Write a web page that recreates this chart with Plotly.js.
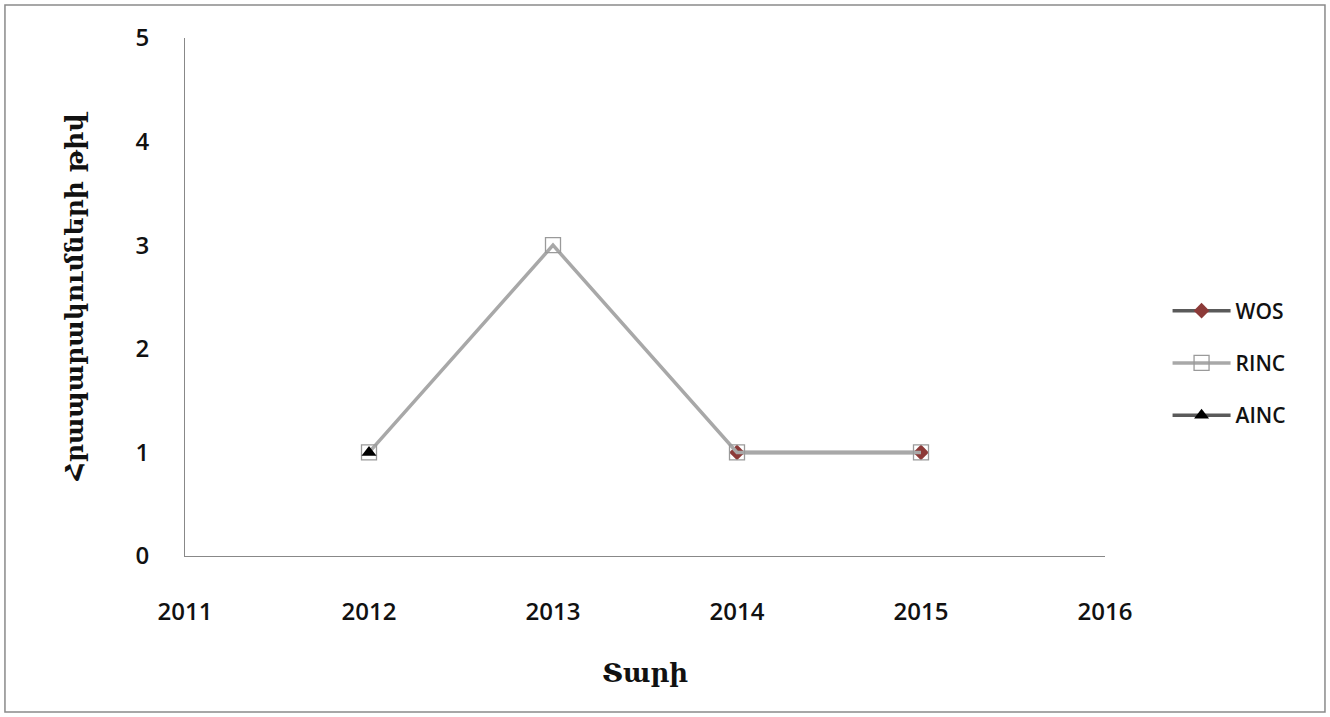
<!DOCTYPE html>
<html>
<head>
<meta charset="utf-8">
<script src="https://cdn.plot.ly/plotly-3.0.1.min.js"></script>
<style>html,body{margin:0;padding:0;background:#fff}#chart{width:1330px;height:717px}</style>
</head>
<body>
<div id="chart"></div>
<script>
const yearsWOS = [2014, 2015];
const valuesWOS = [1, 1];
const yearsRINC = [2012, 2013, 2014, 2015];
const valuesRINC = [1, 3, 1, 1];
const yearsAINC = [2012];
const valuesAINC = [1];
const xTicks = [2011, 2012, 2013, 2014, 2015, 2016];
const yTicks = [0, 1, 2, 3, 4, 5];
const xTitle = "Տարի";
const yTitle = "Հրապարակումների թիվ";

const traces = [
  {x: yearsWOS, y: valuesWOS, name: "WOS", mode: "lines+markers", legendgroup: "a",
   line: {color: "#5a5a5a", width: 3.5},
   marker: {symbol: "diamond", size: 12, color: "#8c3a38", line: {color: "#8c3a38", width: 0}}},
  {x: yearsRINC, y: valuesRINC, name: "RINC", mode: "lines+markers", legendgroup: "b",
   line: {color: "#a8a8a8", width: 3.5},
   marker: {symbol: "square-open", size: 15, color: "#9a9a9a", line: {width: 1.3}}},
  {x: yearsAINC, y: valuesAINC, name: "AINC", mode: "lines+markers", legendgroup: "c",
   line: {color: "#5a5a5a", width: 3.5},
   marker: {symbol: "triangle-up", size: 13, color: "#000000"}}
];

const tickFont = {family: "Open Sans, sans-serif", size: 24, color: "#111", weight: 600};

const layout = {
  width: 1330, height: 717,
  margin: {l: 185, r: 225, t: 38, b: 161},
  paper_bgcolor: "#ffffff", plot_bgcolor: "#ffffff",
  font: {family: "Open Sans, sans-serif", color: "#111"},
  xaxis: {
    range: [2011, 2016], tickvals: xTicks, ticktext: xTicks.map(String),
    showgrid: false, zeroline: false, showline: true, linecolor: "#888", linewidth: 1,
    ticks: "", ticklabelstandoff: 34,
    tickfont: tickFont,
    title: {text: xTitle, font: {family: "DejaVu Serif, serif", size: 26, color: "#111", weight: "bold"}, standoff: 38}
  },
  yaxis: {
    range: [0, 5], tickvals: yTicks,
    showgrid: false, zeroline: false, showline: true, linecolor: "#888", linewidth: 1,
    ticks: "", ticklabelstandoff: 30,
    tickfont: tickFont,
    title: {text: yTitle, font: {family: "DejaVu Serif, serif", size: 25, color: "#111", weight: "bold"}, standoff: 44}
  },
  showlegend: true,
  legend: {x: 1.068, y: 0.3726, xanchor: "left", yanchor: "middle", traceorder: "grouped", tracegroupgap: 22,
    itemwidth: 58,
    font: {family: "Open Sans, sans-serif", size: 21, color: "#111", weight: 600}},
  shapes: [{type: "rect", xref: "paper", yref: "paper", x0: -0.1957, x1: 1.2391, y0: -0.3012, y1: 1.0637,
    line: {color: "#8a8a8a", width: 1.5}, layer: "below"}]
};

Plotly.newPlot("chart", traces, layout, {displayModeBar: false, staticPlot: true});
</script>
</body>
</html>
